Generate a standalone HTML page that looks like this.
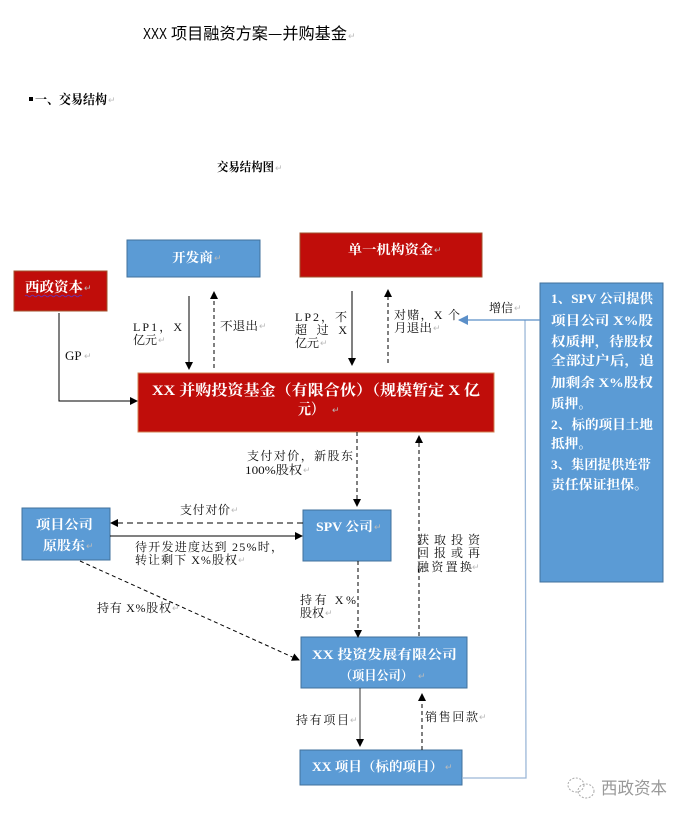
<!DOCTYPE html>
<html><head><meta charset="utf-8"><style>
html,body{margin:0;padding:0;background:#fff;}
svg{display:block;}
.bx{font-family:"Liberation Serif","Noto Serif CJK SC",serif;font-weight:bold;fill:#fff;}
.lb{font-family:"Liberation Serif","Noto Serif CJK SC",serif;fill:#111;font-size:12px;}
.rm{font-family:"Liberation Sans","Noto Sans CJK SC",sans-serif;fill:#bbb;font-size:9px;}
</style></head><body>
<svg width="689" height="818" viewBox="0 0 689 818" xmlns="http://www.w3.org/2000/svg">
<defs>
<marker id="ah" markerWidth="8" markerHeight="8" refX="7" refY="4" orient="auto" markerUnits="userSpaceOnUse">
<path d="M0,0 L8,4 L0,8 Z" fill="#000"/></marker>
<marker id="ahb" markerWidth="10" markerHeight="10" refX="9" refY="5" orient="auto" markerUnits="userSpaceOnUse">
<path d="M0,0 L10,5 L0,10 Z" fill="#5B8FC8"/></marker>
</defs>

<!-- Title -->
<text x="143" y="39" font-family="Liberation Sans Narrow,Liberation Sans,sans-serif" font-size="16" textLength="24" lengthAdjust="spacingAndGlyphs" fill="#000">XXX</text>
<text x="171" y="39" font-family="Noto Sans CJK SC,sans-serif" font-size="16" textLength="176" lengthAdjust="spacingAndGlyphs" fill="#000">项目融资方案—并购基金</text>
<text x="348" y="39" class="rm">↵</text>

<!-- section heading -->
<rect x="29" y="97" width="4" height="4" fill="#000"/>
<text x="35" y="104" font-family="Noto Serif CJK SC,serif" font-weight="bold" font-size="13" textLength="72" lengthAdjust="spacingAndGlyphs" fill="#000">一、交易结构</text>
<text x="108" y="103" class="rm">↵</text>

<text x="217" y="171" font-family="Noto Serif CJK SC,serif" font-weight="bold" font-size="12" textLength="57" lengthAdjust="spacingAndGlyphs" fill="#000">交易结构图</text>
<text x="275" y="171" class="rm">↵</text>

<!-- Boxes -->
<rect x="127" y="240" width="133" height="37" fill="#5B9BD5" stroke="#41719C" stroke-width="1"/>
<text x="172" y="262" class="bx" font-size="13" textLength="41" lengthAdjust="spacingAndGlyphs">开发商</text>
<text x="214" y="261" class="rm">↵</text>

<rect x="14" y="271" width="93" height="40" fill="#C00D0A" stroke="#A0522D" stroke-width="1"/>
<text x="25" y="292" class="bx" font-size="14" textLength="58" lengthAdjust="spacingAndGlyphs">西政资本</text>
<path d="M25,296 q1.5,-1.5 3,0 t3,0 t3,0 t3,0 t3,0 t3,0 t3,0 t3,0 t3,0 t3,0 t3,0 t3,0 t3,0 t3,0 t3,0 t3,0 t3,0 t3,0 t3,0" fill="none" stroke="#7030A0" stroke-width="1"/>
<text x="84" y="291" class="rm">↵</text>

<rect x="300" y="233" width="182" height="44" fill="#C00D0A" stroke="#A0522D" stroke-width="1"/>
<text x="348" y="254" class="bx" font-size="13" textLength="85" lengthAdjust="spacingAndGlyphs">单一机构资金</text>
<text x="434" y="253" class="rm">↵</text>

<rect x="138" y="373" width="356" height="59" fill="#C00D0A" stroke="#D08050" stroke-width="1"/>
<text x="152" y="395" class="bx" font-size="15" textLength="328" lengthAdjust="spacingAndGlyphs">XX 并购投资基金（有限合伙）（规模暂定 X 亿</text>
<text x="298" y="414" class="bx" font-size="15" textLength="26" lengthAdjust="spacingAndGlyphs">元）</text>
<text x="332" y="413" class="rm">↵</text>

<rect x="540" y="283" width="123" height="299" fill="#5B9BD5" stroke="#41719C" stroke-width="1"/>
<g class="bx" font-size="13">
<text x="551" y="303" textLength="102" lengthAdjust="spacingAndGlyphs">1、SPV 公司提供</text>
<text x="551" y="325" textLength="102" lengthAdjust="spacingAndGlyphs">项目公司 X%股</text>
<text x="551" y="346" textLength="102" lengthAdjust="spacingAndGlyphs">权质押，待股权</text>
<text x="551" y="365" textLength="103" lengthAdjust="spacingAndGlyphs">全部过户后，追</text>
<text x="551" y="387" textLength="102" lengthAdjust="spacingAndGlyphs">加剩余 X%股权</text>
<text x="551" y="408" textLength="41" lengthAdjust="spacingAndGlyphs">质押。</text>
<text x="551" y="429" textLength="102" lengthAdjust="spacingAndGlyphs">2、标的项目土地</text>
<text x="551" y="448" textLength="41" lengthAdjust="spacingAndGlyphs">抵押。</text>
<text x="551" y="469" textLength="100" lengthAdjust="spacingAndGlyphs">3、集团提供连带</text>
<text x="551" y="489" textLength="97" lengthAdjust="spacingAndGlyphs">责任保证担保。</text>
</g>

<rect x="22" y="508" width="88" height="52" fill="#5B9BD5" stroke="#41719C" stroke-width="1"/>
<text x="36" y="529" class="bx" font-size="13" textLength="57" lengthAdjust="spacingAndGlyphs">项目公司</text>
<text x="43" y="550" class="bx" font-size="13" textLength="42" lengthAdjust="spacingAndGlyphs">原股东</text>
<text x="86" y="549" class="rm">↵</text>

<rect x="303" y="510" width="88" height="51" fill="#5B9BD5" stroke="#41719C" stroke-width="1"/>
<text x="316" y="531" class="bx" font-size="13" textLength="57" lengthAdjust="spacingAndGlyphs">SPV 公司</text>
<text x="374" y="530" class="rm">↵</text>

<rect x="301" y="637" width="166" height="51" fill="#5B9BD5" stroke="#41719C" stroke-width="1"/>
<text x="312" y="659" class="bx" font-size="13" textLength="145" lengthAdjust="spacingAndGlyphs">XX 投资发展有限公司</text>
<text x="340" y="680" class="bx" font-size="13" textLength="73" lengthAdjust="spacingAndGlyphs">（项目公司）</text>
<text x="418" y="679" class="rm">↵</text>

<rect x="300" y="750" width="162" height="35" fill="#5B9BD5" stroke="#41719C" stroke-width="1"/>
<text x="312" y="771" class="bx" font-size="13" textLength="131" lengthAdjust="spacingAndGlyphs">XX 项目（标的项目）</text>
<text x="445" y="770" class="rm">↵</text>

<!-- Connectors -->
<g stroke="#000" stroke-width="1" fill="none">
<polyline points="59,313 59,401 137,401" marker-end="url(#ah)"/>
<line x1="189" y1="296" x2="189" y2="369" marker-end="url(#ah)"/>
<line x1="214" y1="368" x2="214" y2="292" stroke-dasharray="4,3" marker-end="url(#ah)"/>
<line x1="352" y1="291" x2="352" y2="365" marker-end="url(#ah)"/>
<line x1="388" y1="363" x2="388" y2="290" stroke-dasharray="4,3" marker-end="url(#ah)"/>
<line x1="357" y1="432" x2="357" y2="506" stroke-dasharray="4,3" marker-end="url(#ah)"/>
<line x1="419" y1="636" x2="419" y2="436" stroke-dasharray="4,3" marker-end="url(#ah)"/>
<line x1="303" y1="523" x2="111" y2="523" stroke-dasharray="6,4" marker-end="url(#ah)"/>
<line x1="110" y1="536" x2="302" y2="536" marker-end="url(#ah)"/>
<line x1="80" y1="561" x2="299" y2="660" stroke-dasharray="4,3" marker-end="url(#ah)"/>
<line x1="358" y1="561" x2="358" y2="637" stroke-dasharray="4,3" marker-end="url(#ah)"/>
<line x1="360" y1="688" x2="360" y2="746" stroke="#333" marker-end="url(#ah)"/>
<line x1="422" y1="750" x2="422" y2="694" stroke-dasharray="4,3" marker-end="url(#ah)"/>
</g>
<polyline points="462,778 526,778 525,320" fill="none" stroke="#9CB8D8" stroke-width="1.3"/>
<line x1="540" y1="320" x2="459" y2="320" stroke="#5B8FC8" stroke-width="1.3" marker-end="url(#ahb)"/>

<!-- Labels -->
<text x="133" y="331" class="lb" textLength="49" lengthAdjust="spacing">LP1，X</text>
<text x="133" y="344" class="lb">亿元</text><text x="158" y="343" class="rm">↵</text>
<text x="220" y="330" class="lb" textLength="38" lengthAdjust="spacingAndGlyphs">不退出</text><text x="259" y="329" class="rm">↵</text>
<text x="65" y="360" font-family="Liberation Serif,serif" font-size="13" fill="#111">GP</text><text x="84" y="359" class="rm">↵</text>
<text x="295" y="321" class="lb" textLength="52" lengthAdjust="spacing">LP2，不</text>
<text x="295" y="334" class="lb" textLength="52" lengthAdjust="spacing">超 过 X</text>
<text x="295" y="347" class="lb">亿元</text><text x="320" y="346" class="rm">↵</text>
<text x="394" y="319" class="lb" textLength="66" lengthAdjust="spacing">对赌，X 个</text>
<text x="394" y="332" class="lb" textLength="38" lengthAdjust="spacingAndGlyphs">月退出</text><text x="433" y="331" class="rm">↵</text>
<text x="489" y="312" class="lb">增信</text><text x="514" y="311" class="rm">↵</text>
<text x="247" y="460" class="lb" textLength="106" lengthAdjust="spacing">支付对价，新股东</text>
<text x="245" y="474" class="lb" textLength="57" lengthAdjust="spacingAndGlyphs">100%股权</text><text x="303" y="473" class="rm">↵</text>
<text x="180" y="514" class="lb" textLength="50" lengthAdjust="spacing">支付对价</text><text x="231" y="513" class="rm">↵</text>
<text x="135" y="551" class="lb" textLength="148" lengthAdjust="spacing">待开发进度达到 25%时，</text>
<text x="135" y="564" class="lb" textLength="102" lengthAdjust="spacing">转让剩下 X%股权</text><text x="238" y="563" class="rm">↵</text>
<text x="417" y="544" class="lb" textLength="63" lengthAdjust="spacing">获取投资</text>
<text x="417" y="557" class="lb" textLength="63" lengthAdjust="spacing">回报或再</text>
<text x="417" y="571" class="lb" textLength="55" lengthAdjust="spacing">融资置换</text><text x="472" y="570" class="rm">↵</text>
<text x="97" y="612" class="lb" textLength="74" lengthAdjust="spacing">持有 X%股权</text><text x="172" y="611" class="rm">↵</text>
<text x="300" y="604" class="lb" textLength="56" lengthAdjust="spacing">持有  X%</text>
<text x="300" y="617" class="lb">股权</text><text x="325" y="616" class="rm">↵</text>
<text x="296" y="724" class="lb" textLength="53" lengthAdjust="spacing">持有项目</text><text x="350" y="723" class="rm">↵</text>
<text x="425" y="721" class="lb" textLength="53" lengthAdjust="spacing">销售回款</text><text x="479" y="720" class="rm">↵</text>

<!-- watermark -->
<g fill="none" stroke="#aaa" stroke-width="1" stroke-dasharray="2,1.5">
<ellipse cx="576" cy="785" rx="8" ry="7"/>
<ellipse cx="586" cy="791" rx="8" ry="7"/>
</g>
<text x="601" y="794" font-family="Noto Sans CJK SC,sans-serif" font-size="17" fill="#999" textLength="66" lengthAdjust="spacingAndGlyphs">西政资本</text>
</svg>
</body></html>
